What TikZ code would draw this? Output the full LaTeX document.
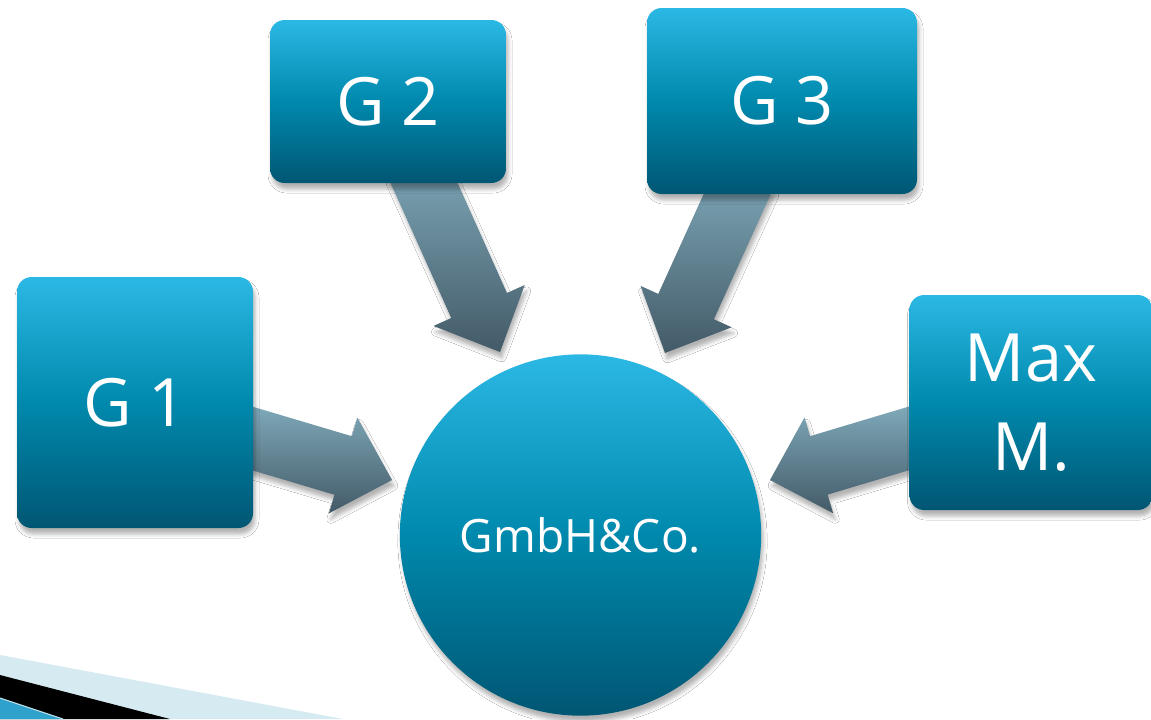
\documentclass[tikz,border=0pt]{standalone}
\usepackage{fontspec}
\setmainfont{Open Sans}
\usetikzlibrary{calc,shadows.blur}
\definecolor{boxtop}{HTML}{2BB8E4}
\definecolor{boxmid}{HTML}{0089AD}
\definecolor{boxbot}{HTML}{005673}
\definecolor{arrtop}{HTML}{80AABB}
\definecolor{arrbot}{HTML}{435A67}
\definecolor{bandlight}{HTML}{D6EAF2}
\definecolor{bandcyan}{HTML}{2FA2CC}
\tikzset{
  softshadow/.style={blur shadow={shadow xshift=1.5pt, shadow yshift=-4.5pt, shadow blur radius=3pt, shadow opacity=30}},
  tealbox/.style={rectangle, rounded corners=11pt, top color=boxtop, bottom color=boxbot, middle color=boxmid,
    draw=none, text=white, align=center, font=\fontsize{50}{66.75}\selectfont, softshadow},
  tealcircle/.style={circle, top color=boxtop, bottom color=boxbot, middle color=boxmid,
    draw=none, text=white, minimum size=271pt, inner sep=0pt, font=\fontsize{34.5}{40}\selectfont, softshadow},
  arrowshade/.style={top color=arrtop, bottom color=arrbot, draw=none, softshadow},
}
\newcommand\blockarrow[2]{%
  \path coordinate (H) at ($(#2)!38.25pt!(#1)$);
  \shade[arrowshade]
    ($(#1)!22.9pt!90:(#2)$) --
    ($(H)!22.9pt!90:(#2)$) --
    ($(H)!37.5pt!90:(#2)$) --
    (#2) --
    ($(H)!37.5pt!-90:(#2)$) --
    ($(H)!22.9pt!-90:(#2)$) --
    ($(#1)!22.9pt!-90:(#2)$) -- cycle;
}
\begin{document}
\begin{tikzpicture}[x=0.75pt,y=-0.75pt]
\useasboundingbox (0,0) rectangle (1151,719);
\fill[white] (0,0) rectangle (1151,719);
% decorative bands bottom left
\fill[bandlight] (0,655) -- (343,719) -- (0,719) -- cycle;
\fill[black] (0,675) -- (170,719) -- (0,719) -- cycle;
\fill[bandcyan] (0,698) -- (63,719) -- (0,719) -- cycle;
\draw[white!70!bandcyan, line width=0.8pt] (0,698) -- (63,719);
% arrow end points
\coordinate (s1) at (234,433);  \coordinate (t1) at (392,480);
\coordinate (s2) at (416,165);  \coordinate (t2) at (500,352);
\coordinate (s3) at (745,177);  \coordinate (t3) at (665,353);
\coordinate (s4) at (927,433);  \coordinate (t4) at (770,480);
\blockarrow{s1}{t1}
\blockarrow{s2}{t2}
\blockarrow{s3}{t3}
\blockarrow{s4}{t4}
% boxes
\node[tealbox, minimum width=177pt, minimum height=188.25pt] (g1) at (135,402.5) {G 1};
\node[tealbox, minimum width=177pt, minimum height=122.25pt] (g2) at (388,101.5) {G 2};
\node[tealbox, minimum width=202.5pt, minimum height=139.5pt] (g3) at (782,101) {G 3};
\node[tealbox, minimum width=182.25pt, minimum height=161.25pt] (max) at (1031,402.5) {Max\\M.};
\node[tealcircle] (gmbh) at (580.5,535) {GmbH\&Co.};
\end{tikzpicture}
\end{document}
